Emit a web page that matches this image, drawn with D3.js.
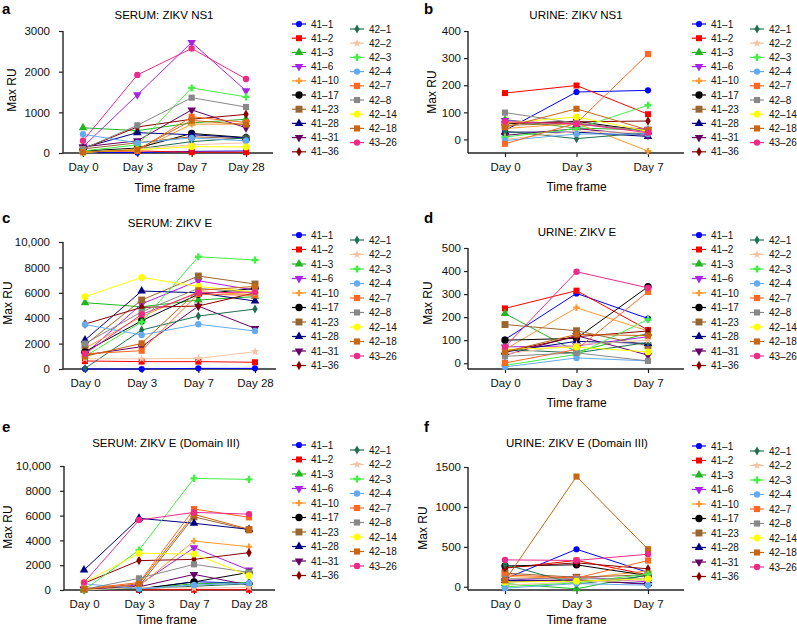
<!DOCTYPE html>
<html>
<head>
<meta charset="utf-8">
<style>
  body { margin: 0; background: #fff; }
  svg { font-family: "Liberation Sans", Arial, sans-serif; }
</style>
</head>
<body>
<div id="chart"></div>
<script src="https://d3js.org/d3.v7.min.js"></script>
<script>

// ---- data ----
const SERIES = ["41–1", "41–2", "41–3", "41–6", "41–10", "41–17", "41–23", "41–28", "41–31", "41–36",
                "42–1", "42–2", "42–3", "42–4", "42–7", "42–8", "42–14", "42–18", "43–26"];
const DAYS4 = ["Day 0", "Day 3", "Day 7", "Day 28"];
const DAYS3 = ["Day 0", "Day 3", "Day 7"];

// one row per series (same order as SERIES), one value per day
const serumNS1 = [
  [20, 10, 40, 50], [30, 50, 20, 20], [620, 550, 740, 830], [150, 1430, 2720, 1530],
  [30, 50, 710, 710], [50, 120, 480, 380], [100, 250, 400, 350], [130, 500, 450, 370],
  [150, 300, 1060, 620], [100, 640, 830, 950],
  [20, 100, 280, 370], [10, 100, 200, 250], [50, 200, 1600, 1380], [460, 250, 370, 300],
  [30, 60, 890, 750], [100, 680, 1360, 1130], [20, 80, 155, 150], [20, 80, 800, 700], [300, 1920, 2570, 1820]
];
const urineNS1 = [
  [33, 175, 181], [171, 199, 93], [73, 42, 35], [70, 55, 38], [40, 60, -43],
  [58, 67, 30], [52, 60, 30], [27, 27, 11], [15, 40, 15], [60, 65, 68],
  [30, 3, 25], [0, 30, 25], [9, 40, 126], [-4, 20, 20], [-16, 60, 315],
  [99, 60, 30], [60, 83, 30], [45, 113, 35], [65, 58, 25]
];
const serumE = [
  [0, 0, 50, 50], [630, 580, 580, 530], [5220, 4900, 5430, 5700], [1180, 5120, 6950, 6200],
  [1630, 4120, 6090, 5850], [1360, 3800, 5880, 6350], [1890, 5430, 7320, 6690], [2280, 6140, 6000, 5350],
  [1100, 1760, 4950, 3200], [3540, 4850, 4960, 6000],
  [50, 3070, 4170, 4720], [800, 800, 840, 1360], [1000, 3700, 8840, 8580], [3500, 2680, 3520, 2990],
  [1200, 1440, 5900, 5800], [2000, 4500, 6350, 6000], [5690, 7210, 6500, 6050], [1000, 2020, 6200, 6500], [1200, 4300, 6000, 6050]
];
const urineE = [
  [103, 303, 194], [238, 315, 144], [216, 49, 130], [71, 75, 115], [60, 241, 140],
  [100, 108, 332], [168, 141, 76], [49, 95, 86], [35, 120, 35], [49, 115, 140],
  [60, 45, 90], [40, 80, 100], [-9, 38, 190], [-16, 23, 10], [1, 60, 310],
  [30, 45, 10], [60, 70, 49], [50, 125, 120], [71, 397, 327]
];
const serumEDIII = [
  [0, 50, 670, 540], [20, 20, 20, 20], [0, 100, 500, 600], [100, 400, 3410, 1610],
  [100, 300, 3950, 3490], [50, 100, 650, 1420], [50, 300, 5900, 4850], [1610, 5780, 5380, 4890],
  [50, 250, 1260, 400], [540, 2370, 2470, 3010],
  [0, 100, 300, 500], [0, 200, 150, 200], [0, 3220, 9000, 8920], [500, 100, 400, 550],
  [100, 600, 6530, 5860], [50, 940, 2070, 1420], [600, 2960, 2900, 1160], [50, 500, 6100, 4900], [600, 5640, 6260, 6120]
];
const urineEDIII = [
  [100, 470, 180], [233, 330, 150], [40, -25, 150], [80, 130, 60], [130, 100, 200],
  [262, 275, 140], [171, 120, 150], [80, 80, 40], [60, 90, 30], [240, 300, 225],
  [280, 33, 140], [20, 60, 80], [0, 50, 160], [-17, 40, 20], [150, 110, 329],
  [100, 100, 100], [60, 70, 100], [80, 1380, 470], [337, 330, 408]
];

const TICKS_A = [0, 1000, 2000, 3000];
const TICKS_B = [0, 100, 200, 300, 400];
const TICKS_CE = [0, 2000, 4000, 6000, 8000, 10000];
const TICKS_D = [0, 100, 200, 300, 400, 500];
const TICKS_F = [0, 500, 1000, 1500];

// ---- styles ----
const COLORS = ["#0000ff", "#ff0000", "#22b522", "#a822e8", "#ff9933", "#000000", "#9a6630", "#000080", "#660066", "#8b0000",
                "#1e6e50", "#f2c4a4", "#44ee44", "#66aaee", "#ff6622", "#888888", "#ffff00", "#c86612", "#ee2a88"];
const SHAPES = ["circle", "square", "triangle", "triangleDown", "cross", "circle", "square", "triangle", "triangleDown", "diamond",
                "diamond", "star", "cross", "circle", "square", "square", "circle", "square", "circle"];
const MSIZE = [30, 36, 32, 32, 24, 42, 48, 32, 32, 26, 24, 24, 28, 32, 38, 38, 36, 38, 32];

const svg = d3.select("#chart").append("svg")
    .attr("width", 797)
    .attr("height", 628);

function symbolPath(i) {
    const s = SHAPES[i];
    const type = s === "circle" ? d3.symbolCircle
        : s === "square" ? d3.symbolSquare
        : s === "triangle" || s === "triangleDown" ? d3.symbolTriangle
        : s === "cross" ? d3.symbolCross
        : s === "diamond" ? d3.symbolDiamond
        : d3.symbolStar;
    return d3.symbol().type(type).size(MSIZE[i])();
}

function marker(sel, i, cx, cy) {
    sel.append("path")
        .attr("d", symbolPath(i))
        .attr("transform", `translate(${cx},${cy})` + (SHAPES[i] === "triangleDown" ? " rotate(180)" : ""))
        .attr("fill", COLORS[i]);
}

const PANELS = [
    { letter: "a", lx: 2, ly: 14, title: "SERUM: ZIKV NS1", tx: 164, ty: 19, data: serumNS1, days: DAYS4,
      yDomain: [0, 3000], ticks: TICKS_A, yRange: [153, 31], xRange: [83, 246], axisX: 63, axisEnd: 273, gap: 9,
      maxX: 12, maxY: 90, tfY: 192, leg: [299, 357, 24, 29, 14.2] },
    { letter: "b", lx: 424, ly: 14, title: "URINE: ZIKV NS1", tx: 576, ty: 19, data: urineNS1, days: DAYS3,
      yDomain: [-50, 400], ticks: TICKS_B, yRange: [153, 31], xRange: [505, 648], axisX: 468, axisEnd: 684, gap: 3,
      maxX: 432, maxY: 92, tfY: 191, leg: [699, 757, 24, 29, 14.2] },
    { letter: "c", lx: 2, ly: 223, title: "SERUM: ZIKV E", tx: 170, ty: 227, data: serumE, days: DAYS4,
      yDomain: [0, 10000], ticks: TICKS_CE, yRange: [369, 242], xRange: [85, 255], axisX: 63, axisEnd: 276, gap: 9,
      maxX: 8, maxY: 303, tfY: null, leg: [299, 357, 235, 240, 14.5] },
    { letter: "d", lx: 424, ly: 223, title: "URINE: ZIKV E", tx: 577, ty: 236, data: urineE, days: DAYS3,
      yDomain: [-25, 500], ticks: TICKS_D, yRange: [369, 248], xRange: [505, 648], axisX: 468, axisEnd: 684, gap: 3,
      maxX: 428, maxY: 303, tfY: 407, leg: [699, 757, 235, 240, 14.5] },
    { letter: "e", lx: 2, ly: 432, title: "SERUM: ZIKV E (Domain III)", tx: 166, ty: 447, data: serumEDIII, days: DAYS4,
      yDomain: [0, 10000], ticks: TICKS_CE, yRange: [590, 466], xRange: [84, 249], axisX: 64, axisEnd: 275, gap: 9,
      maxX: 8, maxY: 527, tfY: 624, leg: [299, 357, 445, 450, 14.5] },
    { letter: "f", lx: 424, ly: 432, title: "URINE: ZIKV E (Domain III)", tx: 577, ty: 447, data: urineEDIII, days: DAYS3,
      yDomain: [-40, 1500], ticks: TICKS_F, yRange: [590, 467], xRange: [505, 648], axisX: 468, axisEnd: 684, gap: 3,
      maxX: 423, maxY: 528, tfY: 624, leg: [699, 757, 446, 451, 14.5] }
];

PANELS.forEach(p => {
    const g = svg.append("g");

    // panel letter + title
    g.append("text").attr("x", p.lx).attr("y", p.ly)
        .attr("font-size", "15px").attr("font-weight", "bold").text(p.letter);
    g.append("text").attr("x", p.tx).attr("y", p.ty)
        .attr("text-anchor", "middle").attr("font-size", "11.5px").text(p.title);

    // scales
    const x = d3.scalePoint().domain(p.days).range(p.xRange);
    const y = d3.scaleLinear().domain(p.yDomain).range(p.yRange);
    const baseY = y(p.yDomain[0]);

    // y axis
    const yAxis = d3.axisLeft(y)
        .tickValues(p.ticks)
        .tickSize(4)
        .tickPadding(p.gap)
        .tickFormat(d => d >= 10000 ? d3.format(",")(d) : d);
    g.append("g")
        .attr("transform", `translate(${p.axisX},0)`)
        .call(yAxis)
        .call(a => a.select(".domain").remove())
        .call(a => a.selectAll("line").attr("stroke", "#222").attr("stroke-width", 1.2))
        .call(a => a.selectAll("text").attr("font-size", "11.5px").attr("fill", "#111")
            .attr("font-family", "Liberation Sans, Arial, sans-serif"));
    g.append("line")
        .attr("x1", p.axisX).attr("x2", p.axisX)
        .attr("y1", y(p.ticks[p.ticks.length - 1])).attr("y2", baseY)
        .attr("stroke", "#222").attr("stroke-width", 1.4);

    // x axis
    const xAxis = d3.axisBottom(x).tickSize(4).tickPadding(5.5);
    g.append("g")
        .attr("transform", `translate(0,${baseY})`)
        .call(xAxis)
        .call(a => a.select(".domain").remove())
        .call(a => a.selectAll("line").attr("stroke", "#222").attr("stroke-width", 1.2))
        .call(a => a.selectAll("text").attr("font-size", "11.5px").attr("fill", "#111")
            .attr("font-family", "Liberation Sans, Arial, sans-serif"));
    g.append("line")
        .attr("x1", p.axisX).attr("x2", p.axisEnd)
        .attr("y1", baseY).attr("y2", baseY)
        .attr("stroke", "#222").attr("stroke-width", 1.4);

    // axis titles
    g.append("text")
        .attr("transform", `translate(${p.maxX},${p.maxY}) rotate(-90)`)
        .attr("dy", "0.35em")
        .attr("text-anchor", "middle").attr("font-size", "12px").text("Max RU");
    if (p.tfY !== null) {
        g.append("text").attr("x", (p.xRange[0] + p.xRange[1]) / 2).attr("y", p.tfY)
            .attr("text-anchor", "middle").attr("font-size", "12px").text("Time frame");
    }

    // series
    const line = d3.line().x((d, j) => x(p.days[j])).y(d => y(d));
    p.data.forEach((vals, i) => {
        const s = g.append("g");
        s.append("path")
            .attr("d", line(vals))
            .attr("fill", "none")
            .attr("stroke", COLORS[i])
            .attr("stroke-width", 1);
        vals.forEach((v, j) => marker(s, i, x(p.days[j]), y(v)));
    });

    // legend
    const [lx1, lx2, ly1, ly2, dy] = p.leg;
    SERIES.forEach((name, i) => {
        const col = i < 10 ? 0 : 1;
        const mx = col === 0 ? lx1 : lx2;
        const my = col === 0 ? ly1 + i * dy : ly2 + (i - 10) * dy;
        const row = g.append("g");
        row.append("line")
            .attr("x1", mx - 7).attr("x2", mx + 7)
            .attr("y1", my).attr("y2", my)
            .attr("stroke", COLORS[i]).attr("stroke-width", 1.2);
        marker(row, i, mx, my);
        row.append("text")
            .attr("x", mx + 12).attr("y", my).attr("dy", "0.35em")
            .attr("font-size", "10px").attr("fill", "#111").text(name);
    });
});
</script>
</body>
</html>
